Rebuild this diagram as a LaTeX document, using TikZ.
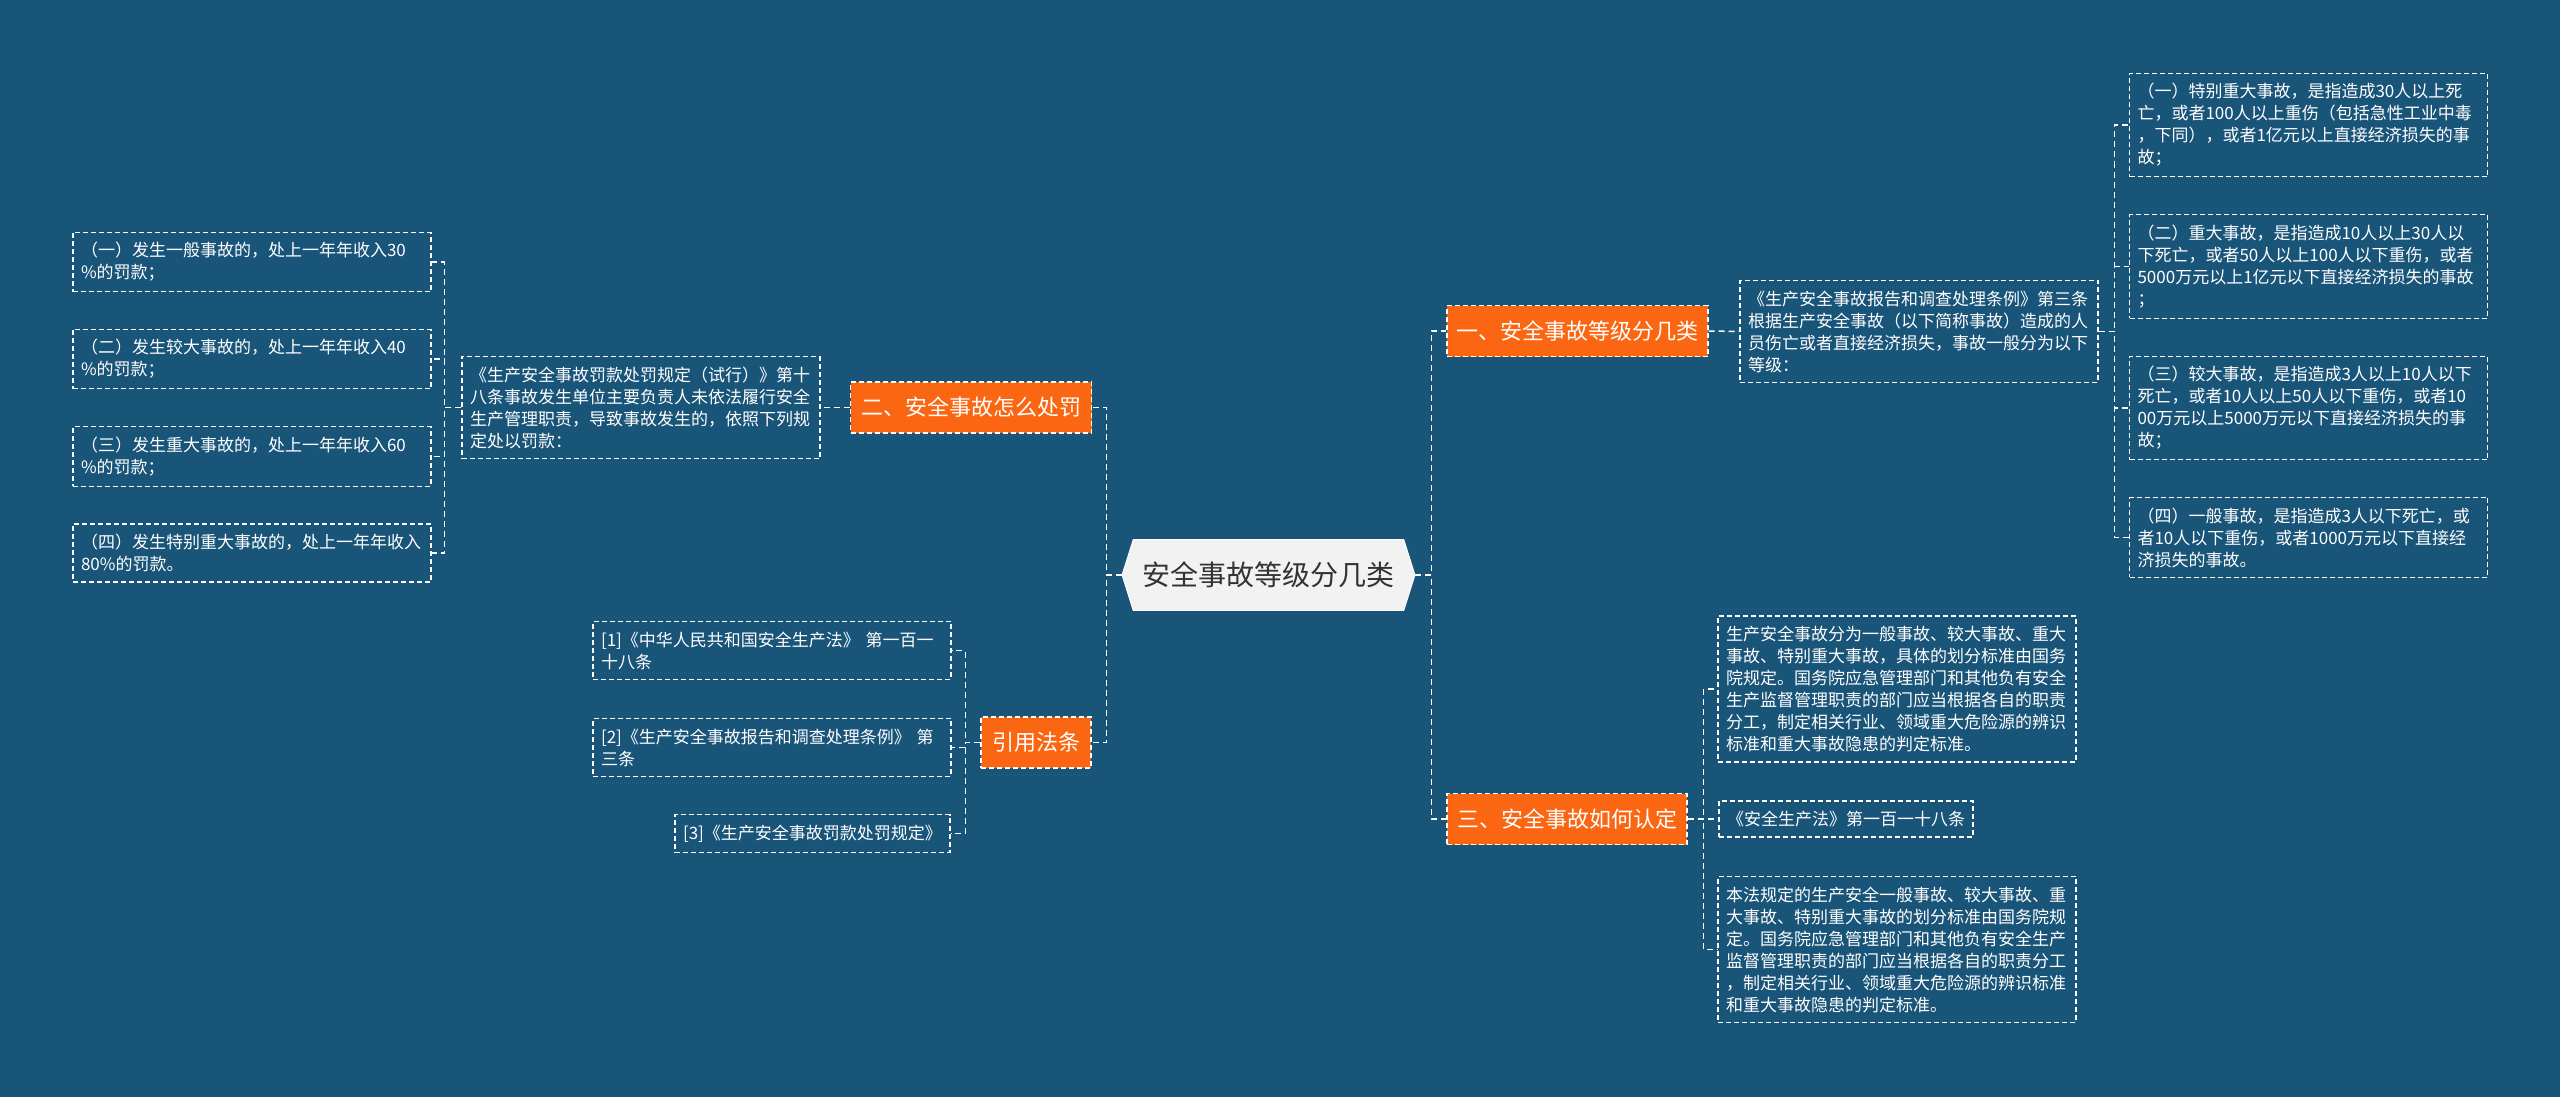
\documentclass[tikz,border=0pt]{standalone}
\usepackage{fontspec}
\setmainfont{Noto Sans CJK SC}
\usetikzlibrary{shapes.symbols}
\definecolor{bgblue}{RGB}{25,84,121}
\definecolor{branchorange}{RGB}{250,102,17}
\definecolor{topicgray}{RGB}{242,242,242}
\definecolor{topictext}{RGB}{51,51,51}

\begin{document}
\begin{tikzpicture}[x=1pt, y=-1pt]
  \tikzstyle{topic} = [signal, signal to=west and east, signal pointer angle=145, fill=topicgray, draw=white, line width=0.8pt, text=topictext, minimum width=293pt, minimum height=71pt, inner sep=0pt, font=\fontsize{28}{32}\selectfont]
  \tikzstyle{branch} = [rectangle, draw=white, dash pattern=on 5pt off 3pt, line width=1.2pt, fill=branchorange, text=white, minimum height=51pt, inner sep=0pt, font=\fontsize{22}{26}\selectfont]
  \tikzstyle{leaf} = [rectangle, draw=white, dash pattern=on 5pt off 3pt, line width=1.2pt, text=white, align=left, inner xsep=8pt, inner ysep=10pt, font=\fontsize{17}{22}\selectfont]
  \tikzstyle{para} = [leaf, text width=342pt]
  \tikzstyle{link} = [draw=white, dash pattern=on 6pt off 4pt, line width=1.5pt]

  % Background
  \fill [bgblue] (0,0) rectangle (2560,1097);

  % Centre
  \node [topic] (ct) at (1268.5,575) {安全事故等级分几类};

  % Level 1: branches
  \node [branch, minimum width=261pt] (b1) at (1577.5,331) {一、安全事故等级分几类};
  \node [branch, minimum width=241pt] (b2) at (971,407.5) {二、安全事故怎么处罚};
  \node [branch, minimum width=240pt] (b3) at (1567,819) {三、安全事故如何认定};
  \node [branch, minimum width=110pt] (b4) at (1036,742.5) {引用法条};

  % Level 2: right side
  \node [para] (d1) at (1919,331.5) {《生产安全事故报告和调查处理条例》第三条\\根据生产安全事故（以下简称事故）造成的人\\员伤亡或者直接经济损失，事故一般分为以下\\等级：};
  \node [para] (r1) at (2308.5,125) {（一）特别重大事故，是指造成30人以上死\\亡，或者100人以上重伤（包括急性工业中毒\\，下同），或者1亿元以上直接经济损失的事\\故；};
  \node [para] (r2) at (2308.5,266.5) {（二）重大事故，是指造成10人以上30人以\\下死亡，或者50人以上100人以下重伤，或者\\5000万元以上1亿元以下直接经济损失的事故\\；};
  \node [para] (r3) at (2308.5,408) {（三）较大事故，是指造成3人以上10人以下\\死亡，或者10人以上50人以下重伤，或者10\\00万元以上5000万元以下直接经济损失的事\\故；};
  \node [para] (r4) at (2308.5,537.5) {（四）一般事故，是指造成3人以下死亡，或\\者10人以下重伤，或者1000万元以下直接经\\济损失的事故。};

  \node [para] (e1) at (1897,689) {生产安全事故分为一般事故、较大事故、重大\\事故、特别重大事故，具体的划分标准由国务\\院规定。国务院应急管理部门和其他负有安全\\生产监督管理职责的部门应当根据各自的职责\\分工，制定相关行业、领域重大危险源的辨识\\标准和重大事故隐患的判定标准。};
  \node [leaf] (e2) at (1846,819) {《安全生产法》第一百一十八条};
  \node [para] (e3) at (1897,949.5) {本法规定的生产安全一般事故、较大事故、重\\大事故、特别重大事故的划分标准由国务院规\\定。国务院应急管理部门和其他负有安全生产\\监督管理职责的部门应当根据各自的职责分工\\，制定相关行业、领域重大危险源的辨识标准\\和重大事故隐患的判定标准。};

  % Level 2: left side
  \node [para] (d2) at (641,407.5) {《生产安全事故罚款处罚规定（试行）》第十\\八条事故发生单位主要负责人未依法履行安全\\生产管理职责，导致事故发生的，依照下列规\\定处以罚款：};
  \node [para] (l1) at (252,262) {（一）发生一般事故的，处上一年年收入30\\\%的罚款；};
  \node [para] (l2) at (252,359) {（二）发生较大事故的，处上一年年收入40\\\%的罚款；};
  \node [para] (l3) at (252,456.5) {（三）发生重大事故的，处上一年年收入60\\\%的罚款；};
  \node [para] (l4) at (252,553) {（四）发生特别重大事故的，处上一年年收入\\80\%的罚款。};

  \node [para] (c1) at (772,650.5) {[1]《中华人民共和国安全生产法》 第一百一\\十八条};
  \node [para] (c2) at (772,747.5) {[2]《生产安全事故报告和调查处理条例》 第\\三条};
  \node [leaf] (c3) at (812.5,833.5) {[3]《生产安全事故罚款处罚规定》};

  % Links
  \draw [link] (ct.east) -- ++(16,0) |- (b1.west);
  \draw [link] (ct.east) -- ++(16,0) |- (b3.west);
  \draw [link] (ct.west) -- ++(-15,0) |- (b2.east);
  \draw [link] (ct.west) -- ++(-15,0) |- (b4.east);

  \draw [link] (b1.east) -- (d1.west);
  \draw [link] (d1.east) -- ++(16,0) |- (r1.west);
  \draw [link] (d1.east) -- ++(16,0) |- (r2.west);
  \draw [link] (d1.east) -- ++(16,0) |- (r3.west);
  \draw [link] (d1.east) -- ++(16,0) |- (r4.west);

  \draw [link] (b3.east) -- ++(16,0) |- (e1.west);
  \draw [link] (b3.east) -- ++(16,0) |- (e2.west);
  \draw [link] (b3.east) -- ++(16,0) |- (e3.west);

  \draw [link] (b2.west) -- (d2.east);
  \draw [link] (d2.west) -- ++(-17,0) |- (l1.east);
  \draw [link] (d2.west) -- ++(-17,0) |- (l2.east);
  \draw [link] (d2.west) -- ++(-17,0) |- (l3.east);
  \draw [link] (d2.west) -- ++(-17,0) |- (l4.east);

  \draw [link] (b4.west) -- ++(-15,0) |- (c1.east);
  \draw [link] (b4.west) -- ++(-15,0) |- (c2.east);
  \draw [link] (b4.west) -- ++(-15,0) |- (c3.east);
\end{tikzpicture}
\end{document}
